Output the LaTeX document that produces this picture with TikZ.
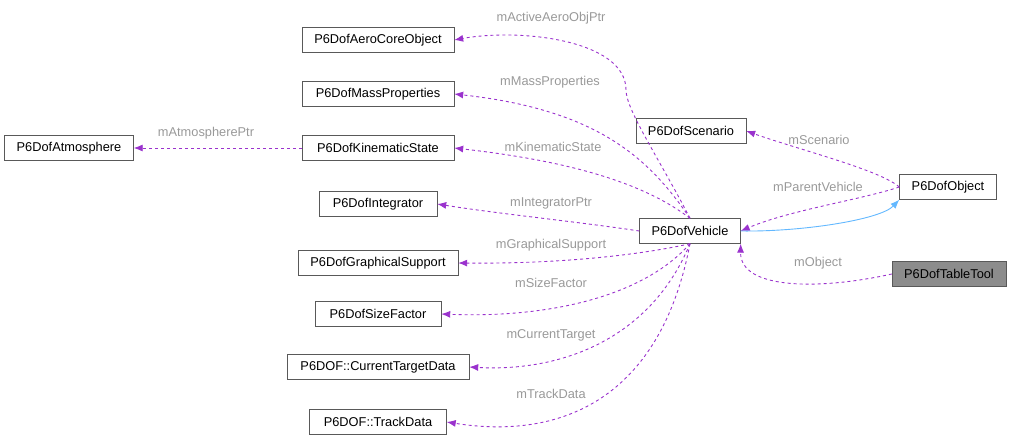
\documentclass[tikz,border=0pt]{standalone}
\usepackage{fontspec}
\setmainfont{Liberation Sans}
\usetikzlibrary{arrows.meta}
\definecolor{dpur}{HTML}{9A32CD}
\definecolor{iblu}{HTML}{63B8FF}
\begin{document}
\begin{tikzpicture}[x=1pt,y=-1pt,
  box/.style={draw=black!65,fill=white,inner sep=0pt,minimum height=25pt,font=\fontsize{12.8}{14}\selectfont,text=black},
  dep/.style={draw=dpur,dashed,line width=0.9pt,-{Latex[length=9pt,width=7pt]}},
  inh/.style={draw=iblu,line width=0.9pt,-{Latex[length=9pt,width=7pt]}},
  lab/.style={font=\fontsize{12.8}{14}\selectfont,text=black!40}]
\useasboundingbox (0,0) rectangle (1011,443);
\node[box,minimum width=152pt] (aero) at (378,40) {P6DofAeroCoreObject};
\node[box,minimum width=152pt] (mass) at (378,94) {P6DofMassProperties};
\node[box,minimum width=129pt] (atm) at (69,148) {P6DofAtmosphere};
\node[box,minimum width=152pt] (kin) at (378,148) {P6DofKinematicState};
\node[box,minimum width=118pt] (int) at (378,204) {P6DofIntegrator};
\node[box,minimum width=160pt] (gra) at (378,263) {P6DofGraphicalSupport};
\node[box,minimum width=126pt] (siz) at (378,314) {P6DofSizeFactor};
\node[box,minimum width=182pt] (cur) at (378,367) {P6DOF::CurrentTargetData};
\node[box,minimum width=137pt] (trk) at (378,422) {P6DOF::TrackData};
\node[box,minimum width=110pt] (scn) at (691,131) {P6DofScenario};
\node[box,minimum width=101pt] (veh) at (690,231) {P6DofVehicle};
\node[box,minimum width=97pt] (obj) at (948,187) {P6DofObject};
\node[box,minimum width=114pt,fill=black!45] (tt) at (949,274) {P6DofTableTool};

\draw[dep] (kin.west) -- (atm.east);
\node[lab] at (206,133) {mAtmospherePtr};
\draw[dep] (veh.north) .. controls (660,160) and (626,110) .. (626,90) .. controls (626,40) and (520,28) .. (aero.east);
\node[lab] at (551,18) {mActiveAeroObjPtr};
\draw[dep] (veh.north) .. controls (650,160) and (600,110) .. (mass.east);
\node[lab] at (550,82) {mMassProperties};
\draw[dep] (veh.north) .. controls (640,180) and (560,160) .. (kin.east);
\node[lab] at (553,147) {mKinematicState};
\draw[dep] (veh.west) .. controls (580,222) and (500,214) .. (int.east);
\node[lab] at (551,203) {mIntegratorPtr};
\draw[dep] (veh.south) .. controls (640,255) and (560,264) .. (gra.east);
\node[lab] at (551,245) {mGraphicalSupport};
\draw[dep] (veh.south) .. controls (640,300) and (540,318) .. (siz.east);
\node[lab] at (551,283) {mSizeFactor};
\draw[dep] (veh.south) .. controls (650,340) and (560,372) .. (cur.east);
\node[lab] at (551,335) {mCurrentTarget};
\draw[dep] (veh.south) .. controls (660,400) and (560,440) .. (trk.east);
\node[lab] at (551,394) {mTrackData};
\draw[dep] (obj.west) .. controls (880,170) and (800,150) .. (scn.east);
\node[lab] at (819,140) {mScenario};
\draw[dep] (obj.west) .. controls (860,200) and (790,210) .. (veh.east);
\node[lab] at (818,187) {mParentVehicle};
\draw[inh] (veh.east) .. controls (800,232) and (880,220) .. (obj.south west);
\draw[dep] (tt.west) .. controls (820,290) and (740,290) .. (veh.south east);
\node[lab] at (818,263) {mObject};
\end{tikzpicture}
\end{document}
